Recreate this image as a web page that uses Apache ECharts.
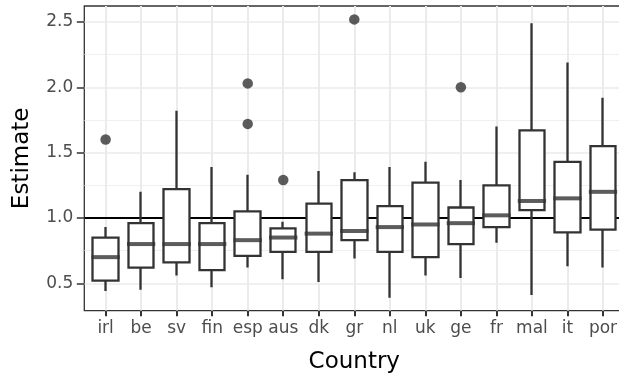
<!DOCTYPE html>
<html>
<head>
<meta charset="utf-8">
<script src="https://cdn.jsdelivr.net/npm/echarts@6/dist/echarts.min.js"></script>
<style>
  html, body { margin: 0; padding: 0; background: #fff; }
  #chart { width: 619px; height: 378px; }
</style>
</head>
<body>
<div id="chart"></div>
<script>
// 各国家的箱线图数据
var countries = ['irl', 'be', 'sv', 'fin', 'esp', 'aus', 'dk', 'gr', 'nl', 'uk', 'ge', 'fr', 'mal', 'it', 'por'];
var whiskerLow  = [0.44, 0.45, 0.56, 0.47, 0.62, 0.53, 0.51, 0.69, 0.39, 0.56, 0.54, 0.81, 0.41, 0.63, 0.62];
var q1          = [0.52, 0.62, 0.66, 0.60, 0.71, 0.74, 0.74, 0.83, 0.74, 0.70, 0.80, 0.93, 1.06, 0.89, 0.91];
var median      = [0.70, 0.80, 0.80, 0.80, 0.83, 0.85, 0.88, 0.90, 0.93, 0.95, 0.96, 1.02, 1.13, 1.15, 1.20];
var q3          = [0.85, 0.96, 1.22, 0.96, 1.05, 0.92, 1.11, 1.29, 1.09, 1.27, 1.08, 1.25, 1.67, 1.43, 1.55];
var whiskerHigh = [0.93, 1.20, 1.82, 1.39, 1.33, 0.97, 1.36, 1.35, 1.39, 1.43, 1.29, 1.70, 2.49, 2.19, 1.92];

// 离群点
var outlierCountry = ['irl', 'esp', 'esp', 'aus', 'gr', 'ge'];
var outlierValue   = [1.60, 2.03, 1.72, 1.29, 2.52, 2.00];

// 坐标轴刻度
var yTicks = [0.5, 1.0, 1.5, 2.0, 2.5];
var yMinorTicks = [0.75, 1.25, 1.75, 2.25];
var refValue = 1.0;

var xPos = countries.map(function (c, i) { return i + 1; });

// 蜡烛图数据格式: [x, open, close, lowest, highest] -> 箱体Q1~Q3，须线min~max
var boxData = countries.map(function (c, i) {
    return [xPos[i], q1[i], q3[i], whiskerLow[i], whiskerHigh[i]];
});
var medianData = countries.map(function (c, i) { return [xPos[i], median[i]]; });
var outlierData = outlierCountry.map(function (c, i) {
    return [countries.indexOf(c) + 1, outlierValue[i]];
});

var FONT = 'DejaVu Sans';
var chart = echarts.init(document.getElementById('chart'), null, {renderer: 'canvas'});

var option = {
    animation: false,
    backgroundColor: '#ffffff',
    grid: {
        left: 84.3, top: 6, width: 540, height: 304.7,
        show: true, borderColor: '#333333', borderWidth: 1.3,
        backgroundColor: '#ffffff',
        outerBoundsMode: 'none',
        containLabel: false
    },
    xAxis: {
        type: 'value',
        min: 0.4, max: 15.6,
        name: 'Country',
        nameLocation: 'middle',
        nameGap: 40,
        nameTextStyle: {fontFamily: FONT, fontSize: 23, color: '#000000'},
        axisLine: {show: false},
        axisTick: {show: true, length: 5.5, customValues: xPos, lineStyle: {color: '#333333', width: 2}},
        axisLabel: {
            customValues: xPos, margin: 9, fontFamily: FONT, fontSize: 17, color: '#4d4d4d',
            formatter: function (v) { return countries[Math.round(v) - 1] || ''; }
        },
        splitLine: {show: true, lineStyle: {color: '#ebebeb', width: 2}}
    },
    yAxis: [{
        type: 'value',
        min: 0.29, max: 2.6225,
        name: 'Estimate',
        nameLocation: 'middle',
        nameRotate: 90,
        nameGap: 51,
        nameTextStyle: {fontFamily: FONT, fontSize: 23, color: '#000000'},
        axisLine: {show: false},
        axisTick: {show: true, length: 7.5, customValues: yTicks, lineStyle: {color: '#333333', width: 1.5}},
        axisLabel: {
            customValues: yTicks, margin: 11, fontFamily: FONT, fontSize: 17, color: '#4d4d4d',
            formatter: function (v) { return v.toFixed(1); }
        },
        splitLine: {show: true, lineStyle: {color: '#ebebeb', width: 1.5}}
    }, {
        // 次网格线
        type: 'value',
        min: 0.29, max: 2.6225,
        position: 'left',
        axisLine: {show: false},
        axisTick: {show: false, customValues: yMinorTicks},
        axisLabel: {show: false, customValues: yMinorTicks},
        splitLine: {show: true, lineStyle: {color: '#ebebeb', width: 0.8}}
    }],
    series: [
        {
            type: 'candlestick',
            data: boxData,
            barWidth: 26,
            z: 2,
            itemStyle: {
                color: '#ffffff', color0: '#ffffff',
                borderColor: '#333333', borderColor0: '#333333',
                borderWidth: 2.3
            },
            markLine: {
                silent: true,
                symbol: 'none',
                z: 1,
                label: {show: false},
                lineStyle: {color: '#000000', width: 1.9, type: 'solid'},
                data: [{yAxis: refValue}]
            }
        },
        {
            type: 'scatter',
            data: medianData,
            symbol: 'rect',
            symbolSize: [28.3, 4],
            z: 3,
            itemStyle: {color: '#333333'}
        },
        {
            type: 'scatter',
            data: outlierData,
            symbol: 'circle',
            symbolSize: 10.5,
            z: 4,
            itemStyle: {color: '#333333'}
        }
    ]
};

chart.setOption(option);
</script>
</body>
</html>
